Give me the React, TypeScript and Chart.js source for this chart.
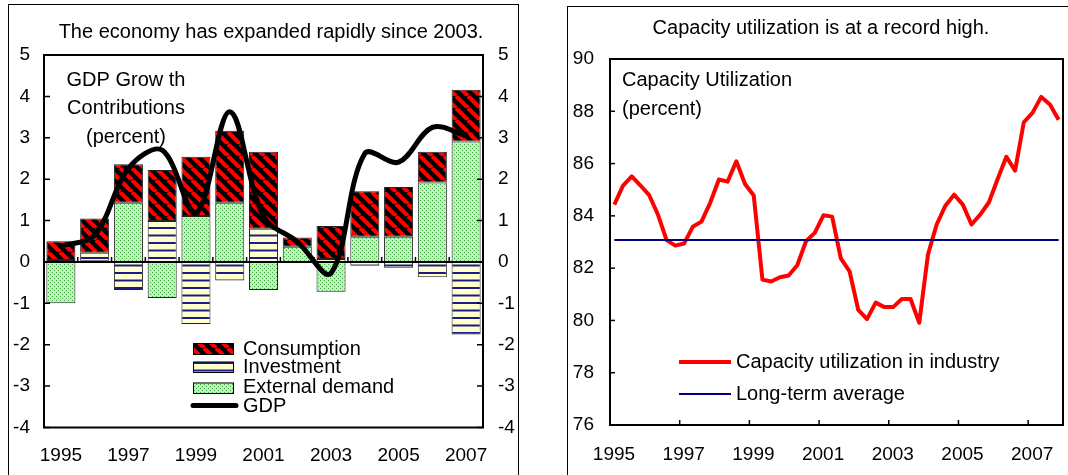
import React, { useEffect, useRef } from 'react';
import { Chart, registerables } from 'chart.js';

Chart.register(...registerables);

const FONT = '"Liberation Sans", Arial, Helvetica, sans-serif';

// ---------- Left panel: GDP growth contributions ----------
const years = ['1995', '1996', '1997', '1998', '1999', '2000', '2001', '2002', '2003', '2004', '2005', '2006', '2007'];
const consumption = [0.45, 0.83, 0.93, 1.23, 1.43, 1.74, 1.86, 0.22, 0.80, 1.10, 1.20, 0.74, 1.25];
const investment = [0.05, 0.19, -0.68, 0.99, -1.50, -0.45, 0.80, 0.0, 0.07, -0.09, -0.14, -0.37, -1.75];
const externalDemand = [-1.00, 0.03, 1.43, -0.87, 1.11, 1.43, -0.68, 0.37, -0.72, 0.61, 0.61, 1.92, 2.91];
const gdp = [0.38, 0.65, 2.26, 2.70, 1.18, 3.63, 1.10, 0.49, -0.27, 2.62, 2.41, 3.25, 3.05];
const leftTitle = 'The economy has expanded rapidly since 2003.';
const leftLabel = ['GDP Grow th', 'Contributions', '(percent)'];
const leftLegend = ['Consumption', 'Investment', 'External demand', 'GDP'];

// ---------- Right panel: capacity utilization (quarterly, 1995Q1-2007Q4) ----------
const capacityFirstYear = 1995;
const capacity = [
  84.43, 85.16, 85.51, 85.16, // 1995
  84.79, 84.05, 83.07, 82.86, // 1996
  82.94, 83.58, 83.78, 84.50, // 1997
  85.39, 85.31, 86.09, 85.22, // 1998
  84.78, 81.56, 81.49, 81.65, // 1999
  81.72, 82.11, 83.03, 83.35, // 2000
  84.02, 83.97, 82.37, 81.88, // 2001
  80.40, 80.05, 80.68, 80.51, // 2002
  80.51, 80.82, 80.82, 79.91, // 2003
  82.52, 83.67, 84.39, 84.81, // 2004
  84.43, 83.67, 84.05, 84.52, // 2005
  85.41, 86.26, 85.73, 87.58, // 2006
  87.94, 88.55, 88.26, 87.68, // 2007
];
const longTermAverage = 83.08;
const capacityTickYears = [1995, 1997, 1999, 2001, 2003, 2005, 2007];
const rightTitle = 'Capacity utilization is at a record high.';
const rightLabel = ['Capacity Utilization', '(percent)'];
const rightLegend = ['Capacity utilization in industry', 'Long-term average'];

// mid-quarter dates
const capacityDates = capacity.map((_, i) => capacityFirstYear + Math.floor(i / 4) + ((i % 4) * 3 + 1.5) / 12);

function makeTile(w: number, h: number, draw: (g: CanvasRenderingContext2D) => void) {
  const c = document.createElement('canvas');
  c.width = w;
  c.height = h;
  const g = c.getContext('2d')!;
  draw(g);
  return c;
}

function consumptionPattern(ctx: CanvasRenderingContext2D) {
  const s = 12;
  const tile = makeTile(s, s, (g) => {
    g.fillStyle = '#000';
    g.fillRect(0, 0, s, s);
    g.strokeStyle = '#ff0000';
    g.lineWidth = 4.2;
    for (const k of [-s, 0, s]) {
      g.beginPath();
      g.moveTo(k, 0);
      g.lineTo(k + s, s);
      g.stroke();
    }
  });
  return ctx.createPattern(tile, 'repeat')!;
}

function investmentPattern(ctx: CanvasRenderingContext2D) {
  const tile = makeTile(4, 15, (g) => {
    g.fillStyle = '#ffffcc';
    g.fillRect(0, 0, 4, 15);
    g.fillStyle = '#1a1a8a';
    g.fillRect(0, 2, 4, 2);
    g.fillRect(0, 9.5, 4, 2);
  });
  return ctx.createPattern(tile, 'repeat')!;
}

function externalPattern(ctx: CanvasRenderingContext2D) {
  const tile = makeTile(4, 4, (g) => {
    g.fillStyle = '#c0f2c0';
    g.fillRect(0, 0, 4, 4);
    g.fillStyle = '#3fa83f';
    g.fillRect(0, 0, 1, 1);
    g.fillRect(2, 2, 1, 1);
  });
  return ctx.createPattern(tile, 'repeat')!;
}

export default function App() {
  const leftRef = useRef<HTMLCanvasElement>(null);
  const rightRef = useRef<HTMLCanvasElement>(null);

  useEffect(() => {
    Chart.defaults.font.family = FONT;
    Chart.defaults.color = '#000';
    const lc = leftRef.current!;
    const rc = rightRef.current!;
    const lctx = lc.getContext('2d')!;
    const consPat = consumptionPattern(lctx);
    const invPat = investmentPattern(lctx);
    const extPat = externalPattern(lctx);

    const leftPlugin = {
      id: 'leftDecor',
      beforeDatasetDraw(chart: any, args: any) {
        if (args.index !== 3) return;
        const { ctx, chartArea: a, scales } = chart;
        const y0 = scales.y.getPixelForValue(0);
        ctx.save();
        ctx.strokeStyle = '#000';
        ctx.lineWidth = 2;
        ctx.beginPath();
        ctx.moveTo(a.left, y0);
        ctx.lineTo(a.right, y0);
        ctx.stroke();
        ctx.lineWidth = 1.5;
        for (let i = 0; i < years.length - 1; i++) {
          const x = (scales.x.getPixelForValue(i) + scales.x.getPixelForValue(i + 1)) / 2;
          ctx.beginPath();
          ctx.moveTo(x, y0);
          ctx.lineTo(x, y0 - 5);
          ctx.stroke();
        }
        ctx.restore();
      },
      afterDraw(chart: any) {
        const { ctx, chartArea: a, scales } = chart;
        ctx.save();
        ctx.strokeStyle = '#000';
        ctx.lineWidth = 2;
        ctx.strokeRect(a.left, a.top, a.right - a.left, a.bottom - a.top);
        ctx.lineWidth = 1.5;
        for (let v = -4; v <= 5; v++) {
          const y = scales.y.getPixelForValue(v);
          ctx.beginPath();
          ctx.moveTo(a.left, y);
          ctx.lineTo(a.left + 6, y);
          ctx.moveTo(a.right, y);
          ctx.lineTo(a.right - 6, y);
          ctx.stroke();
        }
        ctx.fillStyle = '#000';
        ctx.font = `20px ${FONT}`;
        ctx.textBaseline = 'middle';
        ctx.textAlign = 'center';
        ctx.fillText(leftTitle, 271, 32);
        const ly = [80, 108.5, 137];
        leftLabel.forEach((t, i) => ctx.fillText(t, 126, ly[i]));
        // legend
        ctx.textAlign = 'left';
        const sw = [
          { pat: consPat, y: 343, h: 12 },
          { pat: invPat, y: 361.5, h: 11.5 },
          { pat: extPat, y: 382.5, h: 11.5 },
        ];
        ctx.lineWidth = 1;
        sw.forEach((s) => {
          ctx.fillStyle = s.pat;
          ctx.fillRect(193, s.y, 41, s.h);
          ctx.strokeRect(193.5, s.y + 0.5, 40, s.h - 1);
        });
        ctx.strokeStyle = '#000';
        ctx.lineWidth = 5;
        ctx.lineCap = 'round';
        ctx.beginPath();
        ctx.moveTo(193, 405.5);
        ctx.lineTo(236, 405.5);
        ctx.stroke();
        ctx.fillStyle = '#000';
        const ty = [349, 367, 387, 406];
        leftLegend.forEach((t, i) => ctx.fillText(t, 243, ty[i]));
        ctx.restore();
      },
    };

    const barCommon = {
      borderColor: '#222',
      borderWidth: 1,
      borderSkipped: false,
      order: 1,
      yAxisID: 'y',
      categoryPercentage: 1,
      barPercentage: 0.86,
    };

    const left = new Chart(lc, {
      type: 'bar',
      data: {
        labels: years,
        datasets: [
          { ...barCommon, label: 'External demand', data: externalDemand, backgroundColor: extPat },
          { ...barCommon, label: 'Investment', data: investment, backgroundColor: invPat },
          { ...barCommon, label: 'Consumption', data: consumption, backgroundColor: consPat },
          {
            type: 'line',
            label: 'GDP',
            data: gdp,
            borderColor: '#000',
            borderWidth: 5,
            tension: 0.35,
            pointRadius: 0,
            yAxisID: 'y2',
            order: 0,
            borderCapStyle: 'round',
          } as any,
        ],
      } as any,
      options: {
        animation: false,
        responsive: false,
        maintainAspectRatio: false,
        devicePixelRatio: 1,
        layout: { padding: { top: 55, left: 0, right: 0, bottom: 0 } },
        plugins: { legend: { display: false }, tooltip: { enabled: false }, title: { display: false } },
        scales: {
          x: {
            stacked: true,
            grid: { display: false, drawTicks: false },
            border: { display: false },
            ticks: {
              autoSkip: false,
              maxRotation: 0,
              padding: 17,
              font: { size: 19 },
              color: '#000',
              callback: (_v: any, i: number) => (i % 2 === 0 ? years[i] : ''),
            },
            afterFit: (s: any) => { s.height = 47.5; },
          },
          y: {
            stacked: true,
            min: -4,
            max: 5,
            grid: { display: false, drawTicks: false },
            border: { display: false },
            ticks: { stepSize: 1, padding: 14, font: { size: 19 }, color: '#000' },
            afterFit: (s: any) => { s.width = 44; },
          },
          y2: {
            position: 'right',
            min: -4,
            max: 5,
            grid: { display: false, drawTicks: false },
            border: { display: false },
            ticks: { stepSize: 1, padding: 15, font: { size: 19 }, color: '#000' },
            afterFit: (s: any) => { s.width = 57; },
          },
        },
      } as any,
      plugins: [leftPlugin],
    });

    const OX = 540;
    const rightPlugin = {
      id: 'rightDecor',
      afterDraw(chart: any) {
        const { ctx, chartArea: a, scales } = chart;
        ctx.save();
        ctx.strokeStyle = '#000';
        ctx.lineWidth = 2;
        ctx.strokeRect(a.left, a.top, a.right - a.left, a.bottom - a.top);
        ctx.lineWidth = 1.5;
        for (let v = 76; v <= 90; v += 2) {
          const y = scales.y.getPixelForValue(v);
          ctx.beginPath();
          ctx.moveTo(a.left, y);
          ctx.lineTo(a.left + 5, y);
          ctx.stroke();
        }
        capacityTickYears.forEach((yr) => {
          const x = scales.x.getPixelForValue(yr);
          ctx.beginPath();
          ctx.moveTo(x, a.bottom);
          ctx.lineTo(x, a.bottom - 5);
          ctx.stroke();
        });
        ctx.fillStyle = '#000';
        ctx.font = `20px ${FONT}`;
        ctx.textBaseline = 'middle';
        ctx.textAlign = 'center';
        ctx.fillText(rightTitle, 821 - OX, 28.5);
        ctx.textAlign = 'left';
        const ly = [80, 109];
        rightLabel.forEach((t, i) => ctx.fillText(t, 622 - OX, ly[i]));
        // legend
        ctx.lineCap = 'butt';
        ctx.strokeStyle = '#ff0000';
        ctx.lineWidth = 4;
        ctx.beginPath();
        ctx.moveTo(679 - OX, 362);
        ctx.lineTo(731 - OX, 362);
        ctx.stroke();
        ctx.strokeStyle = '#000080';
        ctx.lineWidth = 2;
        ctx.beginPath();
        ctx.moveTo(679 - OX, 394);
        ctx.lineTo(731 - OX, 394);
        ctx.stroke();
        ctx.fillText(rightLegend[0], 736 - OX, 362);
        ctx.fillText(rightLegend[1], 736 - OX, 394);
        ctx.restore();
      },
    };

    const right = new Chart(rc, {
      type: 'line',
      data: {
        datasets: [
          {
            label: rightLegend[0],
            data: capacity.map((v, i) => ({ x: capacityDates[i], y: v })),
            borderColor: '#ff0000',
            borderWidth: 4,
            pointRadius: 0,
            tension: 0,
            borderJoinStyle: 'round',
            order: 1,
          },
          {
            label: rightLegend[1],
            data: [
              { x: capacityDates[0], y: longTermAverage },
              { x: capacityDates[capacityDates.length - 1], y: longTermAverage },
            ],
            borderColor: '#000080',
            borderWidth: 2,
            pointRadius: 0,
            order: 0,
          },
        ],
      } as any,
      options: {
        animation: false,
        responsive: false,
        maintainAspectRatio: false,
        devicePixelRatio: 1,
        layout: { padding: { top: 59, left: 0, right: 5, bottom: 0 } },
        plugins: { legend: { display: false }, tooltip: { enabled: false }, title: { display: false } },
        scales: {
          x: {
            type: 'linear',
            min: 1995,
            max: 2008,
            grid: { display: false, drawTicks: false },
            border: { display: false },
            afterBuildTicks: (s: any) => { s.ticks = capacityTickYears.map((v) => ({ value: v })); },
            ticks: {
              padding: 18,
              labelOffset: 4,
              maxRotation: 0,
              autoSkip: false,
              font: { size: 19 },
              color: '#000',
              callback: (v: any) => String(v),
            },
            afterFit: (s: any) => { s.height = 50; },
          },
          y: {
            min: 76,
            max: 90,
            grid: { display: false, drawTicks: false },
            border: { display: false },
            ticks: { stepSize: 2, padding: 16, font: { size: 19 }, color: '#000' },
            afterFit: (s: any) => { s.width = 70; },
          },
        },
      } as any,
      plugins: [rightPlugin],
    });

    return () => {
      left.destroy();
      right.destroy();
    };
  }, []);

  return (
    <div style={{ position: 'absolute', left: 0, top: 0, width: 1068, height: 475, overflow: 'hidden', background: '#fff' }}>
      <div style={{ position: 'absolute', left: 8, top: 4, width: 511, height: 520, border: '1px solid #000', boxSizing: 'border-box' }} />
      <div style={{ position: 'absolute', left: 567, top: 6, width: 600, height: 520, border: '1px solid #000', boxSizing: 'border-box' }} />
      <canvas ref={leftRef} width={540} height={475} style={{ position: 'absolute', left: 0, top: 0, width: 540, height: 475, display: 'block' }} />
      <canvas ref={rightRef} width={528} height={475} style={{ position: 'absolute', left: 540, top: 0, width: 528, height: 475, display: 'block' }} />
    </div>
  );
}
